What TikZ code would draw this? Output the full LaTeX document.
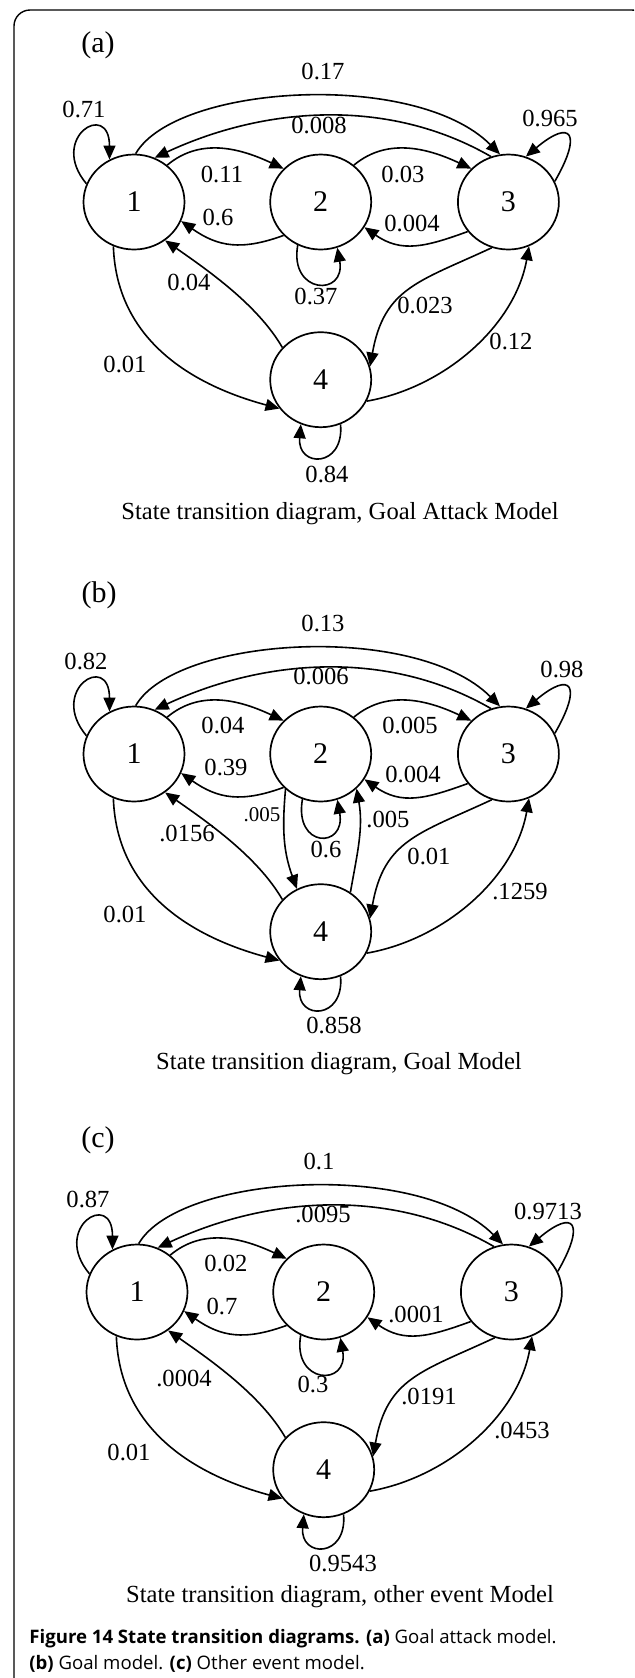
\documentclass[tikz,border=0pt]{standalone}
\usepackage{fontspec}
\setmainfont{Liberation Serif}
\newfontfamily\capfont{Open Sans}
\usetikzlibrary{shapes.geometric, arrows.meta, positioning}

\begin{document}
\begin{tikzpicture}[
        x=0.5pt, y=0.5pt,
        >={Triangle[length=7pt, width=6pt]},
        state/.style={ellipse, draw=black, line width=0.85pt, minimum width=50.5pt, minimum height=47.5pt, inner sep=0pt, font=\fontsize{15}{18}\selectfont},
        prob/.style={inner sep=0pt, font=\fontsize{12.3}{14}\selectfont},
        smallprob/.style={inner sep=0pt, font=\fontsize{10.5}{12}\selectfont},
        paneltag/.style={inner sep=0pt, font=\fontsize{15}{18}\selectfont},
        trans/.style={->, line width=0.8pt},
        figcap/.style={anchor=base west, inner sep=0pt, font=\capfont\fontsize{9.3}{12}\selectfont}
    ]

    % Frame
    \useasboundingbox (0,0) rectangle (634,-1678);
    \clip (0,0) rectangle (634,-1678);
    \draw[line width=0.7pt, rounded corners=8pt] (14,-1700) -- (14,-10) -- (648,-10) -- (648,-1700);

    % Panel (a)
    \node[paneltag] (taga) at (98,-45) {(a)};
    \node[state] (a1) at (134,-202) {1};
    \node[state, right=42pt of a1] (a2) {2};
    \node[state, right=42.5pt of a2] (a3) {3};
    \node[state, below=40.5pt of a2] (a4) {4};

    \draw[trans] (a1.159) .. controls +(130:60) and +(90:60) .. (a1.120);
    \draw[trans] (a1.88) .. controls +(60:80) and +(135:120) .. (a3.100);
    \draw[trans] (a3.111) .. controls +(150:120) and +(25:120) .. (a1.65);
    \draw[trans] (a1.48) .. controls +(40:45) and +(155:45) .. (a2.138);
    \draw[trans] (a2.222) .. controls +(200:45) and +(-35:45) .. (a1.-22);
    \draw[trans] (a2.48) .. controls +(40:45) and +(155:45) .. (a3.138);
    \draw[trans] (a3.216) .. controls +(200:45) and +(-35:45) .. (a2.-30);
    \draw[trans] (a2.242) .. controls +(260:50) and +(-80:50) .. (a2.290);
    \draw[trans] (a4.140) .. controls +(120:50) and +(-35:50) .. (a1.-51);
    \draw[trans] (a1.245) .. controls +(272:100) and +(165:80) .. (a4.215);
    \draw[trans] (a3.250) .. controls +(205:80) and +(80:80) .. (a4.15);
    \draw[trans] (a4.-25) .. controls +(10:80) and +(260:80) .. (a3.-65);
    \draw[trans] (a4.-66) .. controls +(-85:44) and +(-95:44) .. (a4.-114);
    \draw[trans] (a3.24) .. controls +(60:55) and +(40:60) .. (a3.69);

    \node[prob] (pa11) at (84,-109) {0.71};
    \node[prob] (pa13) at (323,-71) {0.17};
    \node[prob] (pa31) at (319,-125) {0.008};
    \node[prob] (pa33) at (550,-118) {0.965};
    \node[prob] (pa12) at (222,-174) {0.11};
    \node[prob] (pa21) at (218,-217) {0.6};
    \node[prob] (pa23) at (403,-174) {0.03};
    \node[prob] (pa32) at (412,-223) {0.004};
    \node[prob] (pa22) at (316,-296) {0.37};
    \node[prob] (pa41) at (189,-282) {0.04};
    \node[prob] (pa34) at (425,-305) {0.023};
    \node[prob] (pa43) at (511,-341) {0.12};
    \node[prob] (pa14) at (125,-364) {0.01};
    \node[prob] (pa44) at (327,-474) {0.84};
    \node[prob] (capa) at (340,-514) {State transition diagram, Goal Attack Model};

    % Panel (b)
    \begin{scope}[yshift=-276.5pt]
    \node[paneltag] (tagb) at (99,-42) {(b)};
    \node[state] (b1) at (134,-201) {1};
    \node[state, right=42pt of b1] (b2) {2};
    \node[state, right=42.5pt of b2] (b3) {3};
    \node[state, below=40.5pt of b2] (b4) {4};

    \draw[trans] (b1.159) .. controls +(130:60) and +(90:60) .. (b1.120);
    \draw[trans] (b1.88) .. controls +(60:80) and +(135:120) .. (b3.100);
    \draw[trans] (b3.111) .. controls +(150:120) and +(25:120) .. (b1.65);
    \draw[trans] (b1.48) .. controls +(40:45) and +(155:45) .. (b2.138);
    \draw[trans] (b2.222) .. controls +(200:45) and +(-35:45) .. (b1.-22);
    \draw[trans] (b2.48) .. controls +(40:45) and +(155:45) .. (b3.138);
    \draw[trans] (b3.216) .. controls +(200:45) and +(-35:45) .. (b2.-30);
    \draw[trans] (b2.248) .. controls +(260:50) and +(-80:50) .. (b2.290);
    \draw[trans] (b2.225) .. controls +(265:40) and +(110:40) .. (b4.119);
    \draw[trans] (b4.53) .. controls +(80:40) and +(280:40) .. (b2.316);
    \draw[trans] (b4.140) .. controls +(120:50) and +(-35:50) .. (b1.-51);
    \draw[trans] (b1.245) .. controls +(272:100) and +(165:80) .. (b4.215);
    \draw[trans] (b3.250) .. controls +(205:80) and +(80:80) .. (b4.15);
    \draw[trans] (b4.-25) .. controls +(10:80) and +(260:80) .. (b3.-65);
    \draw[trans] (b4.-66) .. controls +(-85:44) and +(-95:44) .. (b4.-114);
    \draw[trans] (b3.24) .. controls +(60:55) and +(40:60) .. (b3.69);

    \node[prob] (pb11) at (86,-108) {0.82};
    \node[prob] (pb13) at (323,-70) {0.13};
    \node[prob] (pb31) at (321,-123) {0.006};
    \node[prob] (pb33) at (562,-116) {0.98};
    \node[prob] (pb12) at (223,-172) {0.04};
    \node[prob] (pb21) at (226,-214) {0.39};
    \node[prob] (pb23) at (410,-172) {0.005};
    \node[prob] (pb32) at (413,-221) {0.004};
    \node[smallprob] (pb24) at (262,-262) {.005};
    \node[prob] (pb41) at (187,-280) {.0156};
    \node[prob] (pb42) at (388,-266) {.005};
    \node[prob] (pb22) at (326,-296) {0.6};
    \node[prob] (pb34) at (429,-303) {0.01};
    \node[prob] (pb43) at (520,-339) {.1259};
    \node[prob] (pb14) at (125,-361) {0.01};
    \node[prob] (pb44) at (334,-472) {0.858};
    \node[prob] (capb) at (339,-511) {State transition diagram, Goal Model};
    \end{scope}

    % Panel (c)
    \begin{scope}[xshift=1.5pt, yshift=-545.5pt]
    \node[paneltag] (tagc) at (95,-49) {(c)};
    \node[state] (c1) at (134,-201) {1};
    \node[state, right=42pt of c1] (c2) {2};
    \node[state, right=42.5pt of c2] (c3) {3};
    \node[state, below=40.5pt of c2] (c4) {4};

    \draw[trans] (c1.159) .. controls +(130:60) and +(90:60) .. (c1.120);
    \draw[trans] (c1.88) .. controls +(60:80) and +(135:120) .. (c3.100);
    \draw[trans] (c3.111) .. controls +(150:120) and +(25:120) .. (c1.65);
    \draw[trans] (c1.48) .. controls +(40:45) and +(155:45) .. (c2.138);
    \draw[trans] (c2.222) .. controls +(200:45) and +(-35:45) .. (c1.-22);
    \draw[trans] (c3.216) .. controls +(200:45) and +(-35:45) .. (c2.-30);
    \draw[trans] (c2.242) .. controls +(260:50) and +(-80:50) .. (c2.290);
    \draw[trans] (c4.140) .. controls +(120:50) and +(-35:50) .. (c1.-51);
    \draw[trans] (c1.245) .. controls +(272:100) and +(165:80) .. (c4.215);
    \draw[trans] (c3.250) .. controls +(205:80) and +(80:80) .. (c4.15);
    \draw[trans] (c4.-25) .. controls +(10:80) and +(260:80) .. (c3.-65);
    \draw[trans] (c4.-66) .. controls +(-85:44) and +(-95:44) .. (c4.-114);
    \draw[trans] (c3.24) .. controls +(60:55) and +(40:60) .. (c3.69);

    \node[prob] (pc11) at (85,-108) {0.87};
    \node[prob] (pc13) at (316,-70) {0.1};
    \node[prob] (pc31) at (320,-123) {.0095};
    \node[prob] (pc33) at (545,-120) {0.9713};
    \node[prob] (pc12) at (223,-172) {0.02};
    \node[prob] (pc21) at (219,-215) {0.7};
    \node[prob] (pc32) at (413,-223) {.0001};
    \node[prob] (pc41) at (181,-287) {.0004};
    \node[prob] (pc22) at (310,-293) {0.3};
    \node[prob] (pc34) at (426,-305) {.0191};
    \node[prob] (pc43) at (519,-339) {.0453};
    \node[prob] (pc14) at (126,-361) {0.01};
    \node[prob] (pc44) at (340,-472) {0.9543};
    \node[prob] (capc) at (337,-506) {State transition diagram, other event Model};
    \end{scope}

    % Figure caption
    \node[figcap] (figcap1) at (29,-1643) {\textbf{Figure 14 State transition diagrams. (a)} Goal attack model.};
    \node[figcap] (figcap2) at (29,-1669) {\textbf{(b)} Goal model. \textbf{(c)} Other event model.};

\end{tikzpicture}
\end{document}
